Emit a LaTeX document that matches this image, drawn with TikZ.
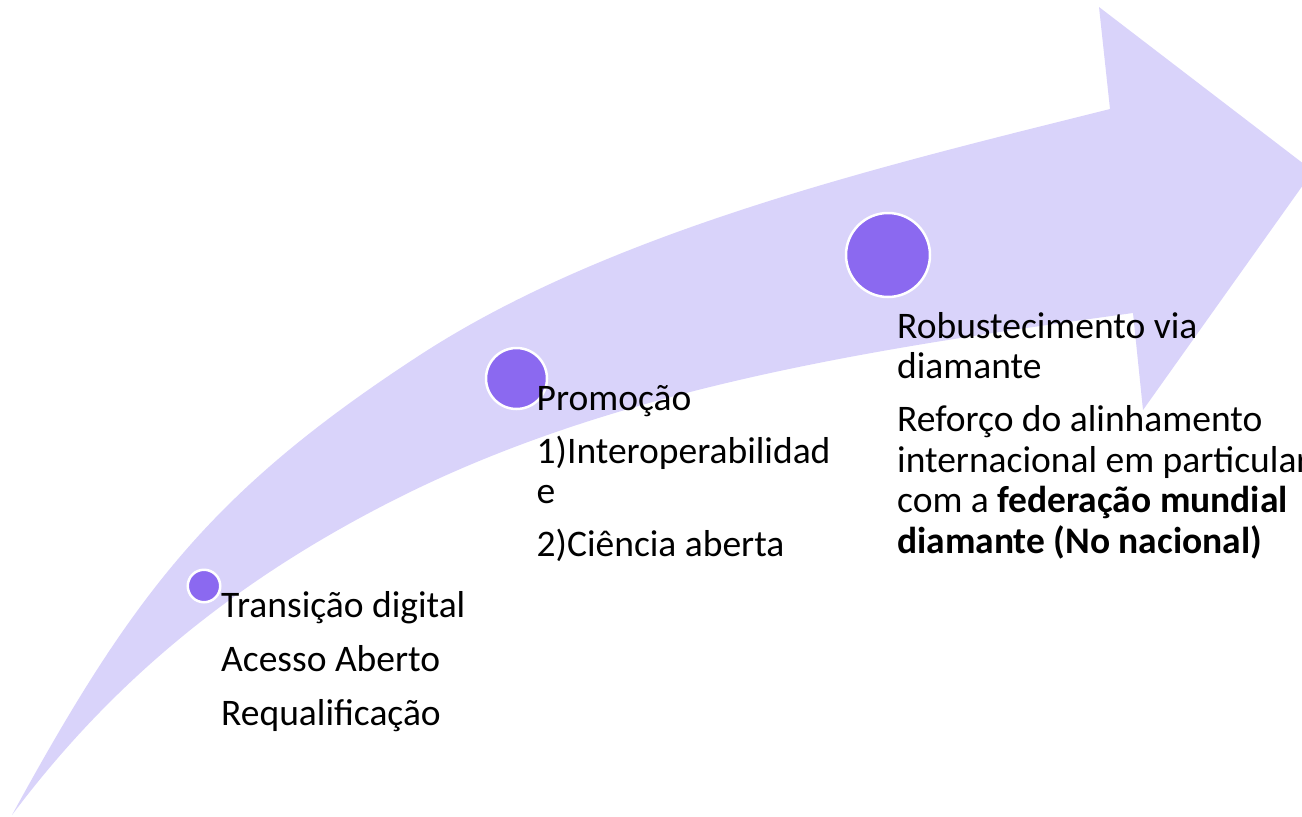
\documentclass[tikz,border=0pt]{standalone}
\usepackage{fontspec}
\setmainfont{Carlito}
\usetikzlibrary{positioning}
\definecolor{bandfill}{RGB}{217,211,250}
\definecolor{dotfill}{RGB}{139,105,240}

\begin{document}
\begin{tikzpicture}
    [
    x=1pt, y=-1pt,
    dot/.style={circle, fill=dotfill, draw=white, line width=2.5pt, inner sep=0pt},
    stagetext/.style={align=left, inner sep=0pt, font=\fontsize{37.5}{40.5}\selectfont},
    ]

    \useasboundingbox (0,0) rectangle (1302,817);

    \fill[bandfill] (12,815)
    .. controls (132,595.8) and (210.5,491.25) .. (420,355)
    .. controls (612.7,229.6) and (886.9,164.9) .. (1110,109)
    -- (1099,7) -- (1313,171) -- (1143,410) -- (1133,313)
    .. controls (885.5,347) and (623.5,385.25) .. (400,497)
    .. controls (221,586.4) and (102,695) .. (12,815)
    -- cycle;

    \node[dot, minimum size=32.5pt] (dot_digital) at (204,586) {};
    \node[dot, minimum size=61pt] (dot_promo) at (516.5,378.5) {};
    \node[dot, minimum size=84pt] (dot_diamond) at (888,255) {};

    \node[stagetext, below right = 139pt and 17pt of dot_digital.center, anchor=base west] (txt_digital)
    {Transição digital\\[13.5pt]Acesso Aberto\\[13.5pt]Requalificação};

    \node[stagetext, below right = 178pt and 20pt of dot_promo.center, anchor=base west] (txt_promo)
    {Promoção\\[12.5pt]1)Interoperabilidad\\e\\[12.5pt]2)Ciência aberta};

    \node[stagetext, below right = 298pt and 9pt of dot_diamond.center, anchor=base west] (txt_diamond)
    {Robustecimento via\\diamante\\[12.5pt]Reforço do alinhamento\\internacional em particular\\com a \textbf{federação mundial}\\\textbf{diamante (No nacional)}};
\end{tikzpicture}
\end{document}
